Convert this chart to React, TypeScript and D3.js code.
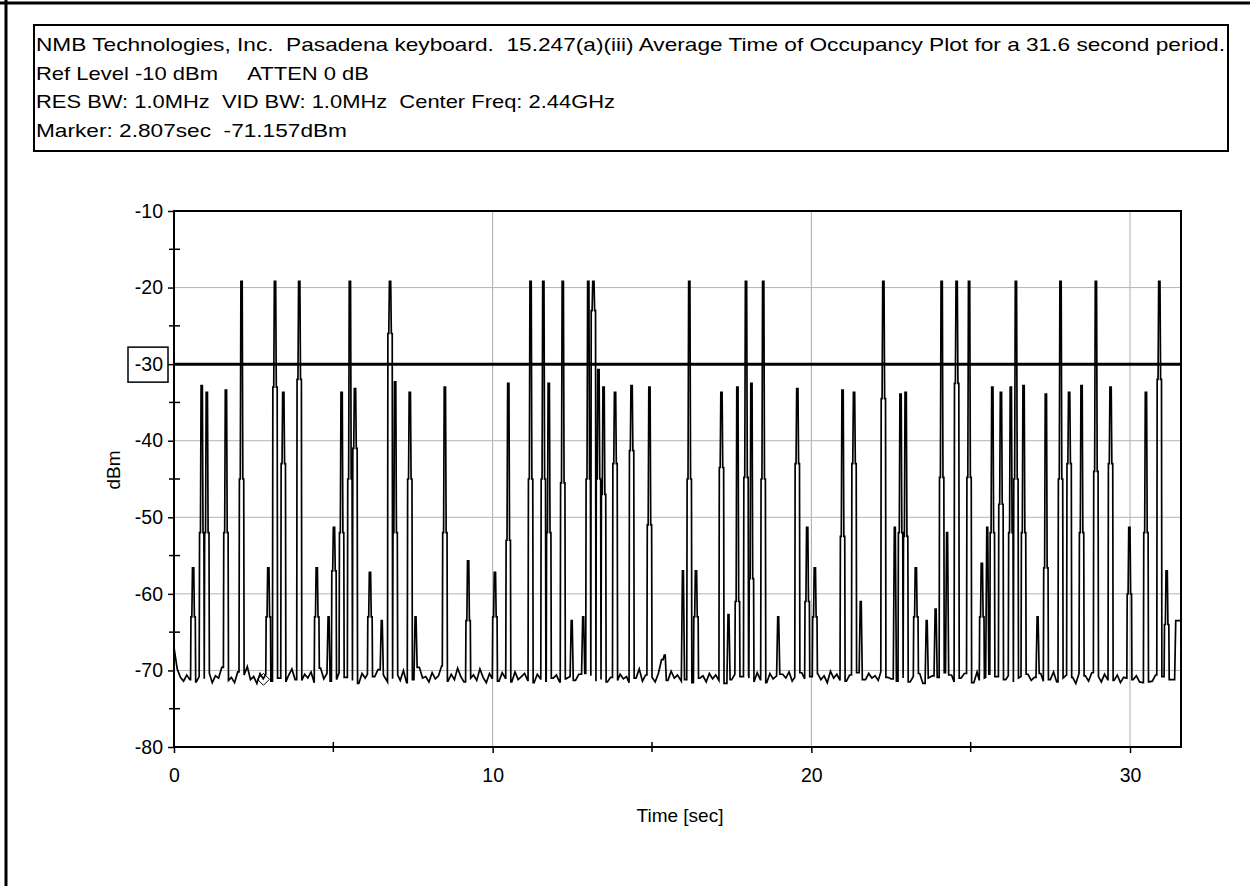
import React, { useEffect, useRef } from "react";
import * as d3 from "d3";

// header text of the analyzer printout
const headerLines = [
  "NMB Technologies, Inc.  Pasadena keyboard.  15.247(a)(iii) Average Time of Occupancy Plot for a 31.6 second period.",
  "Ref Level -10 dBm     ATTEN 0 dB",
  "RES BW: 1.0MHz  VID BW: 1.0MHz  Center Freq: 2.44GHz",
  "Marker: 2.807sec  -71.157dBm",
];
const headerWidths = [1189, 333, 579, 311];

const yTicks = [-80, -70, -60, -50, -40, -30, -20, -10];
const yMinorTicks = [-75, -65, -55, -45, -35, -25, -15];
const xTicks = [0, 10, 20, 30];
const xMinorTicks = [5, 15, 25];
const gridX = [10, 20, 30];
const gridY = [-20, -40, -50, -60, -70];
const thresholdLevel = -30;
const timeSpan = 31.6;

const markerTime = 2.807;
const markerLevel = -71.157;

// noise floor, one reading every 0.1 s
const floorStep = 0.1;
const floorLevels = [
  -67.0, -69.8, -70.9, -71.4, -70.6, -71.2, -70.3, -71.5, -70.8, -69.9,
  -71.1, -70.4, -71.6, -70.7, -71.0, -69.6, -70.5, -71.3, -70.9, -71.6,
  -70.2, -71.0, -70.6, -69.5, -71.2, -70.8, -71.7, -70.4, -71.1, -70.5,
  -69.9, -71.4, -70.7, -71.0, -70.3, -71.5, -70.6, -69.8, -71.2, -70.9,
  -71.3, -70.5, -71.0, -70.2, -71.6, -70.8, -69.7, -71.1, -70.4, -71.4,
  -70.7, -71.2, -70.3, -71.5, -70.9, -70.1, -71.3, -70.6, -71.7, -70.4,
  -71.0, -70.5, -71.4, -70.8, -69.9, -71.2, -70.6, -71.5, -70.3, -71.1,
  -70.6, -71.3, -70.0, -71.6, -70.7, -71.2, -70.4, -69.6, -71.0, -70.8,
  -71.5, -70.3, -71.1, -70.7, -69.4, -70.9, -71.4, -70.5, -71.2, -69.7,
  -70.8, -71.5, -70.2, -71.0, -70.6, -71.3, -69.8, -70.9, -71.6, -70.4,
  -71.1, -70.6, -71.4, -70.3, -71.0, -70.7, -71.5, -70.2, -71.2, -70.8,
  -70.4, -71.3, -70.9, -71.6, -70.5, -71.1, -70.3, -71.4, -70.7, -71.0,
  -70.6, -71.5, -70.2, -71.1, -70.8, -69.9, -71.3, -70.5, -71.6, -70.4,
  -71.0, -70.7, -71.4, -70.3, -71.2, -70.6, -71.5, -70.9, -70.2, -71.3,
  -70.5, -71.1, -70.8, -71.6, -70.3, -71.0, -69.8, -71.4, -70.6, -71.2,
  -70.9, -71.5, -70.4, -68.6, -70.7, -71.3, -70.1, -71.0, -70.6, -71.4,
  -70.8, -71.2, -70.5, -71.6, -70.2, -71.0, -70.7, -71.5, -70.4, -71.1,
  -70.6, -71.3, -70.9, -71.7, -70.3, -71.2, -70.5, -71.4, -70.8, -70.1,
  -71.0, -70.6, -71.5, -70.3, -71.2, -70.8, -71.6, -70.4, -71.1, -70.7,
  -71.3, -70.5, -71.0, -70.2, -71.4, -70.9, -71.6, -70.3, -71.1, -70.6,
  -70.8, -71.5, -70.4, -71.2, -70.7, -71.6, -70.1, -71.0, -70.5, -71.3,
  -70.9, -71.4, -70.6, -71.1, -70.3, -71.5, -70.8, -71.2, -70.4, -71.0,
  -70.7, -71.3, -70.2, -71.6, -70.9, -71.1, -70.5, -71.4, -70.3, -71.0,
  -70.6, -71.5, -70.8, -71.2, -70.4, -71.7, -70.1, -71.0, -70.7, -71.3,
  -70.9, -71.4, -70.3, -71.1, -70.6, -71.5, -70.8, -71.0, -70.4, -71.2,
  -70.7, -71.6, -70.2, -71.3, -70.9, -71.0, -70.5, -71.4, -70.8, -71.1,
  -70.4, -71.2, -70.7, -71.5, -70.3, -71.0, -70.8, -71.6, -70.5, -71.3,
  -70.9, -71.1, -70.4, -71.4, -70.6, -71.2, -70.2, -71.5, -70.8, -71.0,
  -70.6, -71.3, -70.9, -71.7, -70.4, -71.1, -70.7, -71.4, -70.3, -71.0,
  -70.8, -71.5, -70.5, -71.2, -70.1, -71.3, -70.6, -71.6, -70.9, -71.0,
  -70.4, -71.2, -70.7, -71.5, -71.6, -71.6, -71.5, -71.4, -70.6, -71.1,
  -70.8, -71.4, -70.5, -71.2, -66.0, -64.0, -63.5,
];

// hop bursts: time [s], peak [dBm], shoulder [dBm] (null = plain spike)
const spikeTimes = [
  0.6, 0.87, 1.03, 1.63, 2.12, 2.96, 3.17, 3.43, 3.93, 4.48,
  4.85, 5.02, 5.26, 5.52, 5.68, 6.15, 6.52, 6.78, 6.94, 7.4,
  7.58, 8.5, 9.23, 10.07, 10.49, 11.19, 11.59, 11.76, 12.2, 12.48,
  12.84, 13.0, 13.16, 13.32, 13.48, 13.84, 14.36, 14.92, 15.4, 15.97,
  16.17, 16.38, 17.18, 17.4, 17.68, 17.95, 18.12, 18.49, 18.96, 19.56,
  19.87, 20.11, 20.98, 21.34, 21.55, 22.26, 22.62, 22.8, 22.96, 23.28,
  23.62, 23.9, 24.09, 24.26, 24.56, 24.95, 25.35, 25.52, 25.68, 25.95,
  26.26, 26.42, 26.66, 27.1, 27.36, 27.82, 28.09, 28.48, 28.93, 29.39,
  29.98, 30.5, 30.92, 31.15, 31.45,
];
const spikePeaks = [
  -56.6, -32.8, -33.7, -33.4, -19.2, -56.6, -19.2, -33.7, -19.2, -56.6,
  -63.0, -51.3, -33.7, -19.2, -33.2, -57.2, -63.5, -19.2, -32.3, -33.7,
  -63.0, -33.0, -55.7, -57.2, -32.5, -19.2, -19.2, -32.5, -19.2, -63.5,
  -63.0, -19.2, -19.2, -30.7, -33.0, -33.7, -32.8, -33.0, -68.0, -57.0,
  -19.2, -57.0, -33.7, -62.7, -33.0, -19.2, -32.5, -19.2, -63.0, -33.2,
  -51.3, -56.6, -33.4, -33.7, -61.0, -19.2, -51.3, -33.9, -33.7, -56.6,
  -63.5, -62.0, -19.2, -52.0, -19.2, -19.2, -56.0, -51.3, -33.0, -33.7,
  -33.0, -19.2, -32.8, -63.0, -33.9, -19.2, -33.7, -32.8, -19.2, -33.0,
  -51.3, -33.7, -19.2, -57.0, -63.5,
];
const spikeShoulders = [
  -63, -52, -52, -52, -45, -63, -33, -43, -32, -63,
  null, -57, -52, -45, -41, -63, null, -26, -52, -45,
  null, -52, -63.5, -63, -53, -45, -45, -52, -45.5, null,
  null, -45, -23, -45, -47, -43, -41.3, -51, null, null,
  -45, -63, -43.5, null, -61, -44.8, -58, -45, null, -43,
  -61, -63, -52.5, -43, null, -34.5, null, -52, -52.5, -63,
  null, null, -44.8, null, -32.5, -44.8, -63, null, -52, -48.3,
  -52, -45, -52, null, -56.6, -45, -43, -52, -44, -43,
  -60, -52, -32, -64, null,
];

const W = 1250;
const H = 886;

function floorAt(t: number) {
  const i = Math.max(0, Math.min(floorLevels.length - 1, Math.round(t / floorStep)));
  return floorLevels[i];
}

function buildTrace(): [number, number][] {
  const pts: [number, number][] = [];
  floorLevels.forEach((v, i) => {
    const t = i * floorStep;
    if (spikeTimes.some((s) => Math.abs(s - t) < 0.085)) return;
    pts.push([t, v]);
  });
  spikeTimes.forEach((t, i) => {
    const pk = spikePeaks[i];
    const sh = spikeShoulders[i];
    const b0 = floorAt(t - 0.1);
    const b1 = floorAt(t + 0.1);
    if (sh == null) {
      pts.push([t - 0.05, b0], [t - 0.015, pk], [t + 0.015, pk], [t + 0.05, b1]);
    } else {
      pts.push(
        [t - 0.08, b0], [t - 0.068, sh], [t - 0.04, sh], [t - 0.02, pk],
        [t + 0.02, pk], [t + 0.04, sh], [t + 0.068, sh], [t + 0.08, b1]
      );
    }
  });
  pts.sort((a, b) => a[0] - b[0]);
  return pts.filter((p) => p[0] >= 0 && p[0] <= timeSpan);
}

export default function App() {
  const ref = useRef<SVGSVGElement | null>(null);

  useEffect(() => {
    if (!ref.current) return;
    const svg = d3.select(ref.current);
    svg.selectAll("*").remove();

    const font = "'Liberation Sans', Arial, sans-serif";
    const left = 174, right = 1181, top = 211, bottom = 747;

    const x = d3.scaleLinear().domain([0, timeSpan]).range([left, right]);
    const y = d3.scaleLinear().domain([-80, -10]).range([bottom, top]);

    svg.append("rect").attr("width", W).attr("height", H).attr("fill", "#fff");

    // page frame (top and left edges)
    svg.append("path")
      .attr("d", `M0,3 H${W} M6,0 V${H}`)
      .attr("stroke", "#000").attr("stroke-width", 3).attr("fill", "none");

    // header box
    svg.append("rect")
      .attr("x", 34).attr("y", 25).attr("width", 1194).attr("height", 126)
      .attr("fill", "none").attr("stroke", "#000").attr("stroke-width", 2);
    headerLines.forEach((line, i) => {
      svg.append("text")
        .attr("x", 36).attr("y", 51 + i * 28.7)
        .attr("font-family", font).attr("font-size", 19)
        .attr("textLength", headerWidths[i])
        .attr("lengthAdjust", "spacingAndGlyphs")
        .style("white-space", "pre")
        .attr("fill", "#000")
        .text(line);
    });

    // grid
    svg.append("g").selectAll("line").data(gridX).join("line")
      .attr("x1", (d) => x(d)).attr("x2", (d) => x(d))
      .attr("y1", top).attr("y2", bottom)
      .attr("stroke", "#aaa").attr("stroke-width", 1);
    svg.append("g").selectAll("line").data(gridY).join("line")
      .attr("x1", left).attr("x2", right)
      .attr("y1", (d) => y(d)).attr("y2", (d) => y(d))
      .attr("stroke", "#b4b4b4").attr("stroke-width", 1);

    // trace
    const line = d3.line<[number, number]>()
      .x((d) => x(d[0]))
      .y((d) => y(d[1]));
    svg.append("path")
      .datum(buildTrace())
      .attr("d", line)
      .attr("fill", "none")
      .attr("stroke", "#000")
      .attr("stroke-width", 1.7)
      .attr("stroke-linejoin", "miter");

    // marker
    const mx = x(markerTime), my = y(markerLevel);
    svg.append("path")
      .attr("d", `M${mx - 6},${my} L${mx},${my - 6} L${mx + 6},${my} L${mx},${my + 6} Z`)
      .attr("fill", "none").attr("stroke", "#000").attr("stroke-width", 1);

    // threshold
    svg.append("line")
      .attr("x1", left).attr("x2", right)
      .attr("y1", y(thresholdLevel)).attr("y2", y(thresholdLevel))
      .attr("stroke", "#000").attr("stroke-width", 3);

    // plot frame
    svg.append("rect")
      .attr("x", left).attr("y", top).attr("width", right - left).attr("height", bottom - top)
      .attr("fill", "none").attr("stroke", "#000").attr("stroke-width", 2);

    // y axis
    const yAxis = svg.append("g")
      .attr("transform", `translate(${left},0)`)
      .call(d3.axisLeft(y).tickValues(yTicks).tickSize(6).tickPadding(5).tickFormat((d) => String(d)));
    yAxis.select(".domain").remove();
    yAxis.selectAll("line").attr("stroke", "#000").attr("stroke-width", 1.5);
    yAxis.selectAll("text").attr("font-family", font).attr("font-size", 19.5).attr("fill", "#000");

    svg.append("g").selectAll("line").data(yMinorTicks).join("line")
      .attr("x1", left - 5).attr("x2", left + 6)
      .attr("y1", (d) => y(d)).attr("y2", (d) => y(d))
      .attr("stroke", "#000").attr("stroke-width", 1.5);

    // boxed threshold label
    svg.append("rect")
      .attr("x", 128).attr("y", y(thresholdLevel) - 17).attr("width", 40).attr("height", 35)
      .attr("fill", "none").attr("stroke", "#000").attr("stroke-width", 1.5);

    // x axis
    const xAxis = svg.append("g")
      .attr("transform", `translate(0,${bottom})`)
      .call(d3.axisBottom(x).tickValues(xTicks).tickSize(6).tickPadding(15).tickFormat((d) => String(d)));
    xAxis.select(".domain").remove();
    xAxis.selectAll("line").attr("stroke", "#000").attr("stroke-width", 1.5);
    xAxis.selectAll("text").attr("font-family", font).attr("font-size", 19.5).attr("fill", "#000");

    svg.append("g").selectAll("line").data(xMinorTicks).join("line")
      .attr("x1", (d) => x(d)).attr("x2", (d) => x(d))
      .attr("y1", bottom - 5).attr("y2", bottom + 5)
      .attr("stroke", "#000").attr("stroke-width", 1.5);

    // axis titles
    svg.append("text")
      .attr("x", 680).attr("y", 822)
      .attr("text-anchor", "middle")
      .attr("font-family", font).attr("font-size", 19)
      .text("Time [sec]");
    svg.append("text")
      .attr("transform", "translate(120,470) rotate(-90)")
      .attr("text-anchor", "middle")
      .attr("font-family", font).attr("font-size", 19)
      .text("dBm");
  }, []);

  return (
    <svg
      ref={ref}
      width={W}
      height={H}
      style={{ position: "absolute", left: 0, top: 0, display: "block" }}
    />
  );
}
